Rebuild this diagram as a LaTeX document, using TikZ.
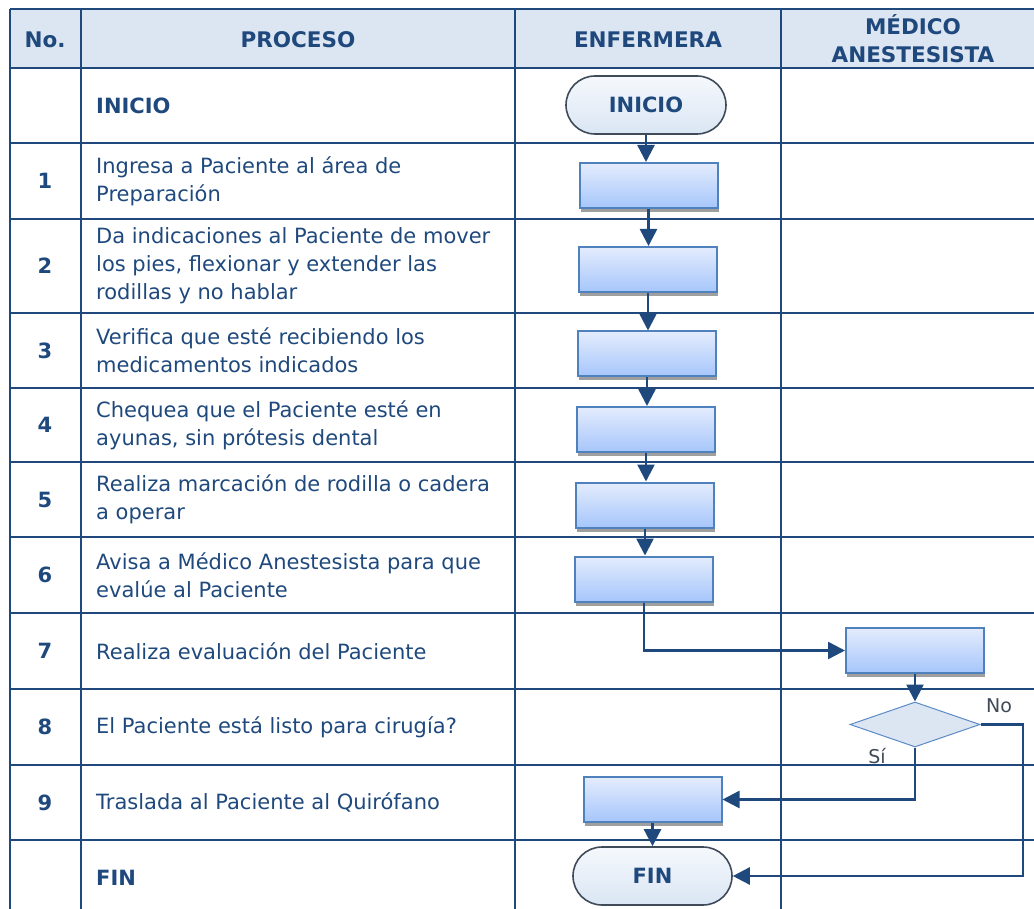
\documentclass[tikz,border=0pt]{standalone}
\usepackage{fontspec}
\setmainfont{DejaVu Sans}
\usetikzlibrary{arrows.meta,shapes.geometric,shapes.misc,shadows}
\definecolor{tblue}{RGB}{31,73,125}
\definecolor{hdrfill}{RGB}{220,230,242}
\definecolor{boxedge}{RGB}{79,129,189}
\definecolor{boxtop}{RGB}{228,236,253}
\definecolor{boxbot}{RGB}{166,198,251}
\definecolor{termedge}{RGB}{64,75,90}
\definecolor{termtop}{RGB}{245,248,252}
\definecolor{termbot}{RGB}{218,230,244}
\definecolor{decedge}{RGB}{91,138,198}
\definecolor{lblgray}{RGB}{64,74,87}
\tikzset{
  gridline/.style={draw=tblue,line width=2.6pt},
  proc/.style={font=\fontsize{21}{28}\selectfont,text=tblue,align=left,inner sep=0pt,anchor=west},
  procb/.style={font=\bfseries\fontsize{21}{28}\selectfont,text=tblue,inner sep=0pt,anchor=west},
  num/.style={font=\bfseries\fontsize{21}{28}\selectfont,text=tblue,inner sep=0pt},
  hdr/.style={font=\bfseries\fontsize{21.5}{28}\selectfont,text=tblue,inner sep=0pt,align=center},
  stepbox/.style={rectangle,draw=boxedge,line width=2pt,top color=boxtop,bottom color=boxbot,
    minimum width=138pt,minimum height=45pt,inner sep=0pt,
    drop shadow={shadow xshift=1pt,shadow yshift=-4pt,fill=gray!75,opacity=1}},
  term/.style={rounded rectangle,draw=termedge,line width=1.6pt,top color=termtop,bottom color=termbot,
    minimum width=160pt,minimum height=58pt,inner sep=0pt,font=\bfseries\fontsize{21}{24}\selectfont,text=tblue},
  dec/.style={diamond,draw=decedge,line width=1pt,fill=hdrfill,minimum width=130pt,minimum height=45pt,inner sep=0pt},
  arr/.style={draw=tblue,line width=2.5pt,-{Triangle[length=17pt,width=17pt]}},
  lbl/.style={font=\fontsize{19}{22}\selectfont,text=lblgray,inner sep=0pt}
}
\begin{document}
\begin{tikzpicture}[x=1pt,y=-1pt]
\useasboundingbox (0,0) rectangle (1034,909);
% header background
\fill[hdrfill] (10,9) rectangle (1040,68);
% grid
\foreach \yy in {9,68,143,219,313,388,462,537,613,689,765,840}
  \draw[gridline] (10,\yy) -- (1040,\yy);
\foreach \xx in {10,81,515,781}
  \draw[gridline] (\xx,9) -- (\xx,915);
% headers
\node[hdr] (hno) at (45,40) {No.};
\node[hdr] (hproc) at (298,40) {PROCESO};
\node[hdr] (henf) at (648,40) {ENFERMERA};
\node[hdr] (hmed) at (913,39) {MÉDICO\\ANESTESISTA};
% numbers
\node[num] (n1) at (45,181) {1};
\node[num] (n2) at (45,266) {2};
\node[num] (n3) at (45,350.5) {3};
\node[num] (n4) at (45,425) {4};
\node[num] (n5) at (45,499.5) {5};
\node[num] (n6) at (45,575) {6};
\node[num] (n7) at (45,651) {7};
\node[num] (n8) at (45,727) {8};
\node[num] (n9) at (45,802.5) {9};
% process texts
\node[procb] (p0) at (96,105.5) {INICIO};
\node[proc] (p1) at (96,181) {Ingresa a Paciente al área de\\Preparación};
\node[proc] (p2) at (96,266) {Da indicaciones al Paciente de mover\\los pies, flexionar y extender las\\rodillas y no hablar};
\node[proc] (p3) at (96,350.5) {Verifica que esté recibiendo los\\medicamentos indicados};
\node[proc] (p4) at (96,425) {Chequea que el Paciente esté en\\ayunas, sin prótesis dental};
\node[proc] (p5) at (96,499.5) {Realiza marcación de rodilla o cadera\\a operar};
\node[proc] (p6) at (96,575) {Avisa a Médico Anestesista para que\\evalúe al Paciente};
\node[proc] (p7) at (96,651) {Realiza evaluación del Paciente};
\node[proc] (p8) at (96,727) {El Paciente está listo para cirugía?};
\node[proc] (p9) at (96,802.5) {Traslada al Paciente al Quirófano};
\node[procb] (p10) at (96,878) {FIN};
% flow shapes
\node[term] (ini) at (646,105) {INICIO};
\node[stepbox] (b1) at (648.5,185.5) {};
\node[stepbox] (b2) at (648,269.5) {};
\node[stepbox] (b3) at (647,354) {};
\node[stepbox] (b4) at (646,429.5) {};
\node[stepbox] (b5) at (645,505) {};
\node[stepbox] (b6) at (644,579) {};
\node[stepbox] (b7) at (915,650.5) {};
\node[dec] (d8) at (915,724.5) {};
\node[stepbox] (b9) at (652.5,799.5) {};
\node[term,minimum width=159pt] (fin) at (652.5,876) {FIN};
\coordinate (nocorner) at (1023,724.5);
% connectors
\draw[arr] (ini.south) -- (ini.south |- b1.north);
\draw[arr] (b1.south) -- (b1.south |- b2.north);
\draw[arr] (b2.south) -- (b2.south |- b3.north);
\draw[arr] (b3.south) -- (b3.south |- b4.north);
\draw[arr] (b4.south) -- (b4.south |- b5.north);
\draw[arr] (b5.south) -- (b5.south |- b6.north);
\draw[arr] (b6.south) |- (b7.west);
\draw[arr] (b7.south) -- (d8.north);
\draw[arr] (d8.south) |- (b9.east);
\draw[arr] (d8.east) -- (nocorner) |- (fin.east);
\draw[arr] (b9.south) -- (b9.south |- fin.north);
% labels
\node[lbl] (lno) at (999,706) {No};
\node[lbl] (lsi) at (877,756) {Sí};
\end{tikzpicture}
\end{document}
